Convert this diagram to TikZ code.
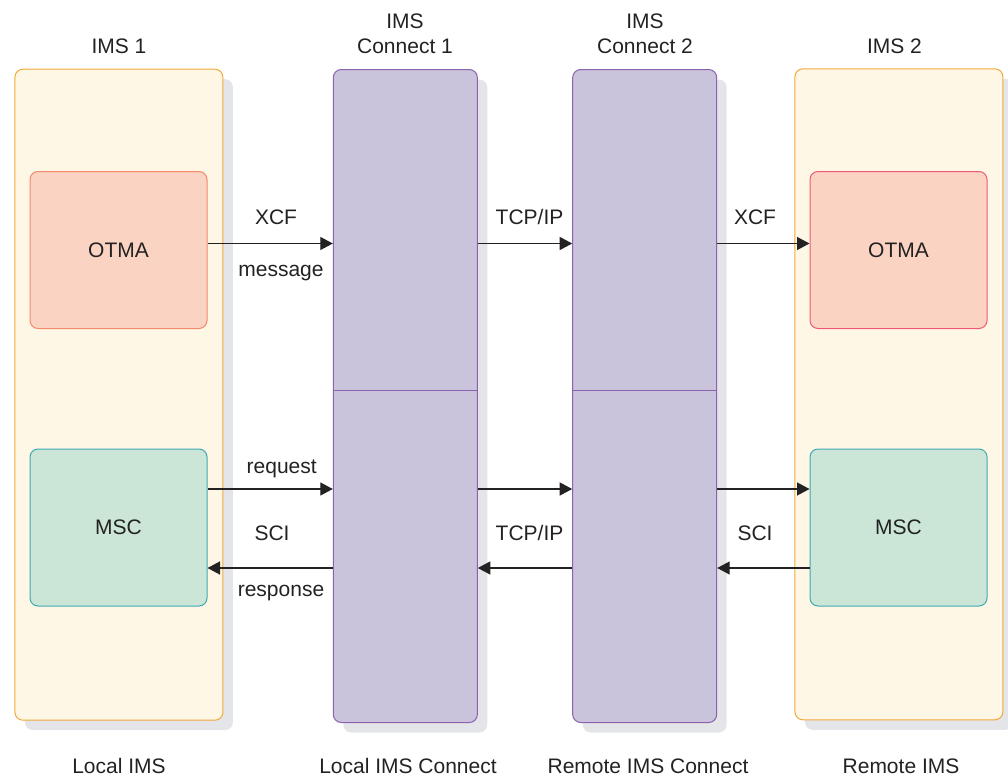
\documentclass[tikz,border=0pt]{standalone}
\usepackage{fontspec}
\setmainfont{Liberation Sans}
\usepackage{xcolor}
\usepackage{tikz}
\usetikzlibrary{arrows.meta, positioning, shadows}

\definecolor{imsfill}{HTML}{FEF7E5}
\definecolor{imsdraw}{HTML}{F2A93B}
\definecolor{confill}{HTML}{C9C3DC}
\definecolor{condraw}{HTML}{8C62AE}
\definecolor{otmafill}{HTML}{FBD3C2}
\definecolor{otmadraw}{HTML}{F38A6C}
\definecolor{otmadrawb}{HTML}{EE5A74}
\definecolor{mscfill}{HTML}{CBE6D6}
\definecolor{mscdraw}{HTML}{3FA9B3}
\definecolor{shadowgray}{HTML}{E4E5E8}
\definecolor{arrowcol}{HTML}{222222}

\begin{document}
\begin{tikzpicture}[
  x=1pt, y=-1pt,
  font=\fontsize{21}{25}\selectfont,
  text=arrowcol,
  base/.style={rounded corners=8pt, line width=1pt, inner sep=0pt},
  shadowed/.style={drop shadow={shadow xshift=10pt, shadow yshift=-10pt, fill=shadowgray, opacity=1}},
  imsbox/.style={base, shadowed, draw=imsdraw, fill=imsfill, minimum width=208pt, minimum height=651pt},
  conbox/.style={base, shadowed, draw=condraw, fill=confill, minimum width=144pt, minimum height=653pt},
  otmabox/.style={base, fill=otmafill, minimum width=177pt, minimum height=157pt},
  mscbox/.style={base, draw=mscdraw, fill=mscfill, minimum width=177pt, minimum height=157pt},
  lbl/.style={anchor=base, inner sep=0pt, align=center},
  arrow/.style={-{Triangle[length=12.5pt, width=13pt]}, line width=1.3pt, draw=arrowcol}
]
\useasboundingbox (0,0) rectangle (1008,776);

% Nodes
\node[imsbox] (ims1) at (118.9,394.7) {};
\node[conbox] (con1) at (405.3,396) {};
\node[conbox] (con2) at (644.7,396) {};
\node[imsbox] (ims2) at (898.9,394.3) {};
\node[otmabox, draw=otmadraw] (otma1) at (118.5,250) {OTMA};
\node[mscbox] (msc1) at (118.5,527.5) {MSC};
\node[otmabox, draw=otmadrawb] (otma2) at (898.5,250) {OTMA};
\node[mscbox] (msc2) at (898.5,527.5) {MSC};

% Rows
\coordinate (r0) at (0,390.5);
\coordinate (r1) at (0,243.5);
\coordinate (r2) at (0,489);
\coordinate (r3) at (0,568);
\draw[condraw, line width=1pt] (con1.west |- r0) -- (con1.east |- r0);
\draw[condraw, line width=1pt] (con2.west |- r0) -- (con2.east |- r0);

% Titles
\node[lbl] (t1) at (119,53) {IMS 1};
\node[lbl, anchor=south] (t2) at (405,53.5) {IMS\\Connect 1};
\node[lbl, anchor=south] (t3) at (645,53.5) {IMS\\Connect 2};
\node[lbl] (t4) at (894.5,53) {IMS 2};
\node[lbl] (b1) at (119,773) {Local IMS};
\node[lbl] (b2) at (408,773) {Local IMS Connect};
\node[lbl] (b3) at (648,773) {Remote IMS Connect};
\node[lbl] (b4) at (901,773) {Remote IMS};

% Labels
\node[lbl] (l1) at (276,224) {XCF};
\node[lbl] (l2) at (281,276) {message};
\node[lbl] (l3) at (529.5,224) {TCP/IP};
\node[lbl] (l4) at (755,224) {XCF};
\node[lbl] (l5) at (281.7,473) {request};
\node[lbl] (l6) at (272,540) {SCI};
\node[lbl] (l7) at (281,596) {response};
\node[lbl] (l8) at (529.5,540) {TCP/IP};
\node[lbl] (l9) at (755,540) {SCI};

% Pointers
\draw[arrow] (otma1.east |- r1) -- (con1.west |- r1);
\draw[arrow] (con1.east |- r1) -- (con2.west |- r1);
\draw[arrow] (con2.east |- r1) -- (otma2.west |- r1);
\draw[arrow] (msc1.east |- r2) -- (con1.west |- r2);
\draw[arrow] (con1.east |- r2) -- (con2.west |- r2);
\draw[arrow] (con2.east |- r2) -- (msc2.west |- r2);
\draw[arrow] (con1.west |- r3) -- (msc1.east |- r3);
\draw[arrow] (con2.west |- r3) -- (con1.east |- r3);
\draw[arrow] (msc2.west |- r3) -- (con2.east |- r3);
\end{tikzpicture}
\end{document}
